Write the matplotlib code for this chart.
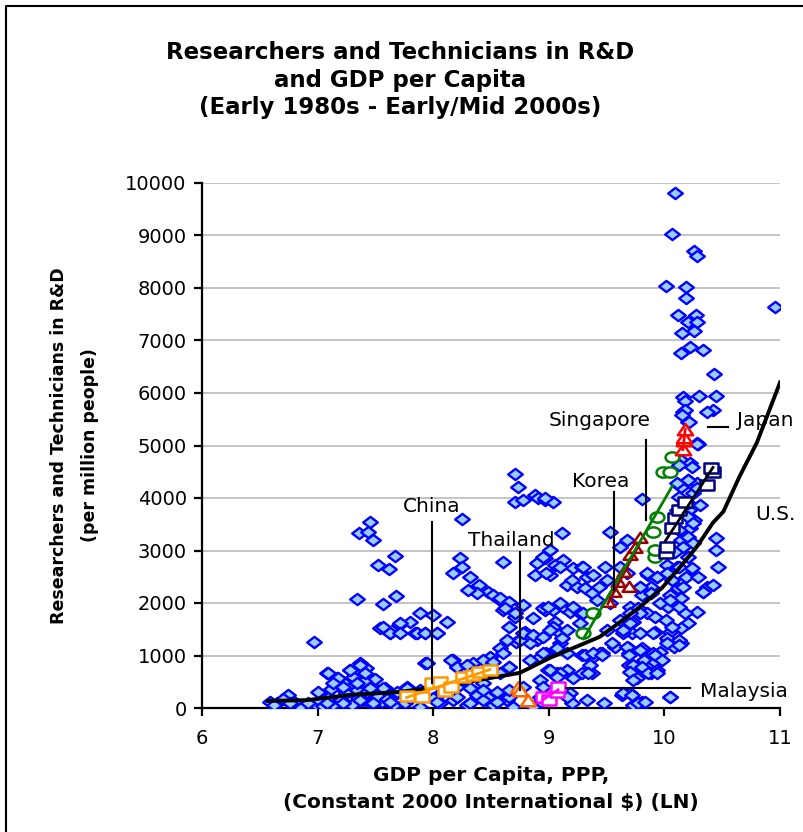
import numpy as np
import matplotlib.pyplot as plt
from matplotlib.path import Path
from matplotlib.lines import Line2D
from matplotlib.transforms import Affine2D

plt.rcParams["font.family"] = ["DejaVu Sans"]

# ---- all economies: ln(GDP per capita PPP) vs researchers+technicians per million ----
world_gdp = [
    # low income, left part
    7.45, 7.36, 7.44, 7.48, 7.67, 7.52, 7.62, 7.34, 7.57, 7.68,
    7.54, 7.63, 7.70, 6.97, 7.37, 7.42, 7.08, 7.28, 7.17, 7.31,
    7.19, 7.26, 7.34, 7.48, 7.58, 7.69, 6.74, 6.59, 6.65, 6.85,
    6.99, 7.13, 7.25, 7.39, 7.56, 7.43, 7.22,
    6.62, 6.70, 6.80, 6.92, 7.02, 7.05, 7.10, 7.20, 7.30, 7.35,
    7.45, 7.52, 7.60, 7.66, 7.50, 7.40, 7.12, 7.00,
    # middle income
    8.71, 8.73, 8.71, 8.78, 8.88, 8.91, 8.97, 9.04, 8.25, 9.11,
    8.60, 8.23, 8.25, 8.17, 8.32, 8.90, 8.97, 9.05, 9.12, 9.21,
    9.29, 8.88, 9.01, 9.33, 8.40, 8.47, 8.52, 8.38, 9.16, 9.24,
    9.31, 9.37, 8.58, 8.64, 8.78, 8.86, 8.71, 8.60, 8.97, 9.04,
    9.12, 9.18, 9.27, 9.05, 9.10, 7.89, 8.00, 8.12, 7.80, 7.84,
    7.93, 8.03, 7.71, 8.66, 8.79, 8.90, 8.81, 8.72, 8.64, 8.98,
    9.10, 9.29, 9.38, 7.93, 8.17, 8.21, 8.29, 8.34, 8.49, 8.66,
    8.58, 8.92, 8.99, 9.07, 9.16, 9.21, 9.29, 9.37, 8.26, 8.15,
    7.77, 8.38, 8.47, 8.55, 8.64, 8.06, 8.17, 8.29, 8.52, 8.69,
    8.92, 9.18, 9.20, 8.00, 8.92, 8.43, 8.78, 7.89, 7.76,
    8.30, 8.58, 8.66, 8.62, 8.71, 8.95, 7.86, 8.58, 8.84, 8.75,
    7.57, 7.63, 7.71, 7.86, 7.93, 8.03, 8.78, 8.86, 8.95, 9.04,
    9.11, 9.07, 7.09, 7.18, 7.28, 7.37, 7.41, 7.34, 7.57, 7.77,
    7.95, 8.15, 8.21, 8.29, 8.43, 8.52, 8.60, 8.66, 8.84, 8.95,
    9.01, 9.10, 9.16, 6.76, 7.08, 7.22, 7.37, 7.48, 7.63, 7.80,
    8.03, 8.21, 8.32, 8.43, 8.55, 8.66, 8.86, 8.92, 9.16, 7.13,
    7.22, 7.45, 7.69, 7.89, 8.08, 8.21, 8.32, 8.43, 8.55, 8.66,
    8.95, 9.07,
    # upper middle / high income
    9.81, 10.29, 10.14, 10.22, 10.20, 10.28, 10.14, 10.25, 10.31, 10.21,
    10.26, 10.22, 9.53, 10.45, 10.45, 10.46, 10.14, 10.16, 9.62, 9.68,
    10.02, 10.11, 9.49, 9.86, 9.94, 10.19, 10.29, 10.37, 10.33, 9.79,
    9.88, 10.12, 9.81, 10.05, 10.14, 9.70, 9.77, 10.03, 10.28, 10.18,
    9.85, 9.62, 9.73, 10.20, 9.64, 9.92, 10.05, 10.14, 9.72, 10.03,
    10.14, 10.08, 9.96, 9.90, 9.69, 9.46, 9.69, 9.82, 9.92, 9.73,
    9.88, 9.94, 9.76, 9.63, 9.70, 9.73, 9.81, 10.05,
    10.16, 10.20, 10.28, 10.13, 10.24, 10.20, 10.11, 10.28, 10.13, 10.20,
    10.11, 10.20, 10.25, 10.13, 10.20, 10.25, 10.09, 10.20, 10.13, 10.24,
    10.02, 10.07, 10.16, 9.94, 9.85, 9.79, 9.88, 9.96, 10.05, 10.13,
    9.79, 9.92, 10.01, 10.07, 9.70, 9.64, 9.79, 9.90, 10.02, 10.13,
    9.57, 9.69, 9.81, 10.42, 10.33,
    8.97, 9.01, 8.95, 8.98, 9.10, 9.30, 9.20, 9.38, 9.43, 9.50,
    9.53, 9.10, 8.99, 9.21, 9.30, 9.42, 9.62, 9.68, 9.70, 9.01,
    9.16, 9.27, 9.50, 9.64, 9.55, 9.68, 9.79, 9.44,
    9.31, 9.38, 9.46, 9.36, 9.34, 9.69, 9.73, 9.81, 9.70, 9.86,
    9.94, 9.92, 9.98, 9.73, 9.64, 9.72, 9.77, 9.83, 10.05, 10.02,
    10.13, 9.33, 9.48,
    # top of the range
    10.09, 10.07, 10.26, 10.28, 10.01, 10.19, 10.19, 10.96, 10.12, 10.27,
    10.20, 10.28, 10.26, 10.15, 10.22, 10.33, 10.14, 10.43, 10.16, 10.30,
    10.45, 10.18, 10.18, 10.42, 10.37, 10.15, 10.21, 10.28,
]
world_rd = [
    3550, 3340, 3360, 3205, 2900, 2730, 2650, 2080, 1985, 2135,
    1525, 1430, 1585, 1260, 860, 765, 670, 725, 570, 590,
    400, 400, 345, 400, 380, 285, 250, 115, 95, 20,
    55, 55, 285, 150, 115, 305, 495,
    60, 170, 110, 90, 130, 30, 210, 150, 60, 200,
    90, 230, 170, 60, 560, 520, 360, 300,
    4465, 4215, 3930, 3970, 4065, 4005, 3970, 3930, 3605, 3340,
    2785, 2860, 2690, 2575, 2500, 2765, 2860, 2730, 2825, 2670,
    2690, 2540, 2540, 2500, 2345, 2215, 2155, 2195, 2345, 2310,
    2290, 2195, 2060, 2005, 1965, 1715, 1735, 1870, 1870, 1870,
    1925, 1830, 1810, 1640, 1430, 1810, 1775, 1640, 1640, 1430,
    1430, 1430, 1620, 1545, 1450, 1300, 1300, 1260, 1300, 1050,
    1240, 1010, 975, 860, 915, 780, 725, 860, 975, 780,
    670, 975, 725, 670, 725, 570, 670, 670, 535, 400,
    400, 250, 210, 285, 150, 95, 150, 55, 55, 20,
    535, 285, 95, 190, 115, 475, 400, 20, 95,
    2250, 2100, 2020, 1910, 1810, 1910, 1430, 1145, 1240, 1300,
    1545, 1430, 1430, 1430, 1430, 1430, 1430, 1390, 1350, 1545,
    1330, 1145, 670, 570, 725, 820, 670, 475, 380, 380,
    860, 915, 780, 820, 915, 880, 1050, 780, 915, 1050,
    725, 670, 1050, 95, 95, 95, 150, 95, 115, 190,
    115, 210, 95, 150, 115, 210, 20, 210, 210, 475,
    400, 380, 305, 345, 305, 400, 380, 345, 305, 345,
    400, 590,
    3990, 5020, 4730, 4675, 4350, 4295, 4215, 4100, 3875, 3780,
    3590, 3435, 3360, 3245, 3015, 2690, 3205, 3070, 3070, 3205,
    2730, 2690, 2690, 2540, 2500, 2500, 2500, 2310, 2215, 2310,
    2310, 2290, 2155, 2155, 2100, 1925, 1910, 1925, 1830, 1810,
    1810, 1680, 1640, 1620, 1490, 1450, 1450, 1525, 1430, 1300,
    1240, 1165, 1070, 1050, 1050, 1050, 820, 915, 880, 725,
    670, 725, 570, 250, 285, 55, 115, 210,
    5630, 5440, 5055, 4635, 4600, 4350, 4295, 4200, 4025, 3910,
    3780, 3645, 3530, 3395, 3265, 3150, 2975, 2880, 2690, 2670,
    2575, 2440, 2310, 2500, 2575, 2310, 2195, 2005, 2060, 1925,
    1815, 1735, 1680, 1545, 1620, 1430, 1430, 1430, 1335, 1295,
    1165, 1145, 1145, 2345, 2215,
    4005, 3015, 2880, 2575, 2690, 2690, 2440, 2540, 2310, 2440,
    2005, 2005, 1925, 1925, 1815, 2060, 2690, 2575, 1815, 1490,
    1490, 1620, 1490, 1490, 1240, 1165, 1105, 1050,
    1010, 1050, 1010, 820, 670, 1010, 820, 780, 690, 670,
    670, 1010, 915, 535, 285, 250, 95, 115, 210, 1240,
    1200, 150, 95,
    9805, 9025, 8700, 8605, 8035, 8015, 7805, 7630, 7480, 7480,
    7345, 7345, 7175, 7135, 6870, 6810, 6755, 6355, 5915, 5935,
    5935, 5840, 5685, 5685, 5630, 5590, 5440, 5020,
]

# ---- highlighted countries (time paths) ----
china_gdp = [7.77, 7.90, 7.99, 8.06, 8.10, 8.15, 8.26, 8.34, 8.40, 8.49]
china_rd = [230, 210, 475, 500, 330, 400, 590, 630, 690, 725]
thailand_gdp = [8.73, 8.75, 8.82]
thailand_rd = [380, 330, 140]
malaysia_gdp = [8.95, 9.00, 9.07, 9.08]
malaysia_rd = [210, 150, 305, 400]
korea_gdp = [9.51, 9.56, 9.60, 9.65, 9.69, 9.70, 9.75, 9.79]
korea_rd = [2020, 2215, 2400, 2600, 2310, 2920, 3050, 3245]
singapore_gdp = [9.30, 9.38, 9.90, 9.92, 9.92, 9.94, 9.99, 10.05, 10.07]
singapore_rd = [1430, 1810, 3360, 2880, 3015, 3645, 4500, 4500, 4790]
japan_gdp = [10.16, 10.17, 10.17, 10.18]
japan_rd = [4920, 5080, 5150, 5300]
us_gdp = [10.01, 10.02, 10.07, 10.09, 10.13, 10.18, 10.37, 10.42, 10.40]
us_rd = [2950, 3075, 3435, 3625, 3780, 3930, 4255, 4500, 4580]

# ---- smoothed fit through all economies ----
trend_gdp = [6.57, 6.91, 7.28, 7.71, 8.15, 8.49, 8.75, 9.01, 9.44, 9.62,
             9.81, 9.98, 10.13, 10.28, 10.42, 10.51, 10.65, 10.80, 11.0]
trend_rd = [135, 150, 250, 305, 440, 570, 670, 955, 1355, 1640,
            1965, 2290, 2670, 3070, 3530, 3740, 4410, 5055, 6200]


def wide(verts, k):
    p = Path(verts + [verts[0]], closed=True)
    return p.transformed(Affine2D().scale(k, 1.0))


diamond = wide([(0, -1), (1, 0), (0, 1), (-1, 0)], 1.3)
square = wide([(-1, -1), (1, -1), (1, 1), (-1, 1)], 1.3)
ellipse = Path.unit_circle().transformed(Affine2D().scale(1.35, 1.0))
triangle = wide([(0, 1), (-1, -0.75), (1, -0.75)], 1.2)

fig = plt.figure(figsize=(8.04, 8.32), dpi=100)
ax = fig.add_axes([202 / 804, 1 - 708 / 832, 578 / 804, 525 / 832])

ax.plot(world_gdp, world_rd, ls="none", marker=diamond, ms=10.5,
        mfc="#99CCFF", mec="#0000FF", mew=1.7, zorder=3)
ax.plot(trend_gdp, trend_rd, color="black", lw=2.8, zorder=4)

countries = [
    (china_gdp, china_rd, square, "#FF9900", 10),
    (thailand_gdp, thailand_rd, triangle, "#FF6600", 11),
    (malaysia_gdp, malaysia_rd, square, "#FF00FF", 10),
    (korea_gdp, korea_rd, triangle, "#990000", 10),
    (singapore_gdp, singapore_rd, ellipse, "#008000", 10),
    (japan_gdp, japan_rd, triangle, "#FF0000", 11),
    (us_gdp, us_rd, square, "#000080", 10),
]
line_colors = {"#000080": "black"}
for gx, ry, mk, col, ms in countries:
    ax.plot(gx, ry, ls="none", marker=mk, ms=ms, mfc="white", mec=col,
            mew=1.8, zorder=5)
    if len(gx) > 3:
        k, b = np.polyfit(gx, ry, 1)
        xs = np.array([min(gx), max(gx)])
        ax.plot(xs, k * xs + b, color=line_colors.get(col, col), lw=2.0, zorder=6)

# country labels with leader lines
lab = dict(fontsize=14.5, ha="center", va="center", clip_on=False, zorder=7)
ax.text(7.99, 3835, "China", **lab)
ax.plot([7.99, 7.99], [3550, 480], color="black", lw=1.5, zorder=6)
ax.text(8.68, 3185, "Thailand", **lab)
ax.plot([8.75, 8.75], [2975, 340], color="black", lw=1.5, zorder=6)
ax.text(9.45, 4310, "Korea", **lab)
ax.plot([9.56, 9.56], [4120, 2250], color="black", lw=1.5, zorder=6)
ax.text(9.44, 5475, "Singapore", **lab)
ax.plot([9.84, 9.84], [5110, 3590], color="black", lw=1.5, zorder=6)
ax.text(10.87, 5475, "Japan", **lab)
ax.plot([10.38, 10.55], [5360, 5360], color="black", lw=1.5, zorder=6)
ax.text(10.96, 3680, "U.S.", **lab)
ax.text(10.69, 305, "Malaysia", **lab)
ax.plot([9.15, 10.22], [380, 380], color="black", lw=1.5, zorder=6)

ax.set_xlim(6, 11)
ax.set_ylim(0, 10000)
ax.set_xticks(range(6, 12))
ax.set_yticks(range(0, 10001, 1000))
ax.yaxis.grid(True, color="#BFBFBF", lw=1.3)
ax.set_axisbelow(True)
for s in ["top", "right"]:
    ax.spines[s].set_visible(False)
for s in ["left", "bottom"]:
    ax.spines[s].set_linewidth(1.6)
ax.tick_params(direction="out", length=6, width=1.6, labelsize=14)
ax.tick_params(axis="y", pad=5)
ax.tick_params(axis="x", pad=9)

ax.set_xlabel("GDP per Capita, PPP,\n(Constant 2000 International $) (LN)",
              fontsize=14.5, fontweight="bold", labelpad=13, linespacing=1.55)
ax.set_ylabel("Researchers and Technicians in R&D\n(per million people)",
              fontsize=12.5, fontweight="bold", labelpad=19, linespacing=1.9)

fig.text(0.4975, 1 - 80 / 832,
         "Researchers and Technicians in R&D\nand GDP per Capita\n(Early 1980s - Early/Mid 2000s)",
         fontsize=16.5, fontweight="bold", ha="center", va="center", linespacing=1.25)

# chart border (right and bottom edges fall outside the picture)
fig.add_artist(Line2D([6 / 804, 6 / 804, 1.0], [0.0, 1 - 6 / 832, 1 - 6 / 832],
                      color="black", lw=1.5, transform=fig.transFigure))

fig.savefig("out.png", dpi=100)
